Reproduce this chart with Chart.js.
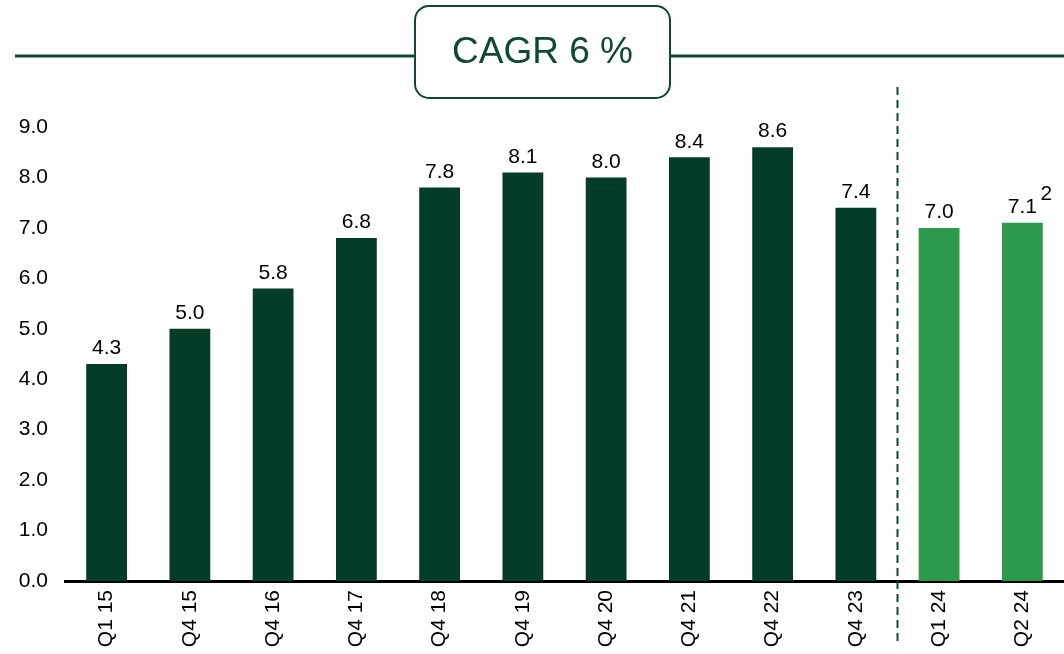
<!DOCTYPE html>
<html><head><meta charset="utf-8">
<script src="https://cdn.jsdelivr.net/npm/chart.js@4/dist/chart.umd.min.js"></script>
<style>html,body{margin:0;padding:0;background:#fff;}#wrap{width:1064px;height:654px;position:relative;}</style>
</head><body><div id="wrap"><canvas id="c" width="1064" height="654"></canvas></div>
<script>
const categories = ['Q1 15','Q4 15','Q4 16','Q4 17','Q4 18','Q4 19','Q4 20','Q4 21','Q4 22','Q4 23','Q1 24','Q2 24'];
const values = [4.3,5.0,5.8,6.8,7.8,8.1,8.0,8.4,8.6,7.4,7.0,7.1];
const isRecent = [false,false,false,false,false,false,false,false,false,false,true,true];
const yTicks = [0,1,2,3,4,5,6,7,8,9];
const titleText = 'CAGR 6 %';
const footnote = '2';

const DARK = '#033d27';
const LIGHT = '#2b9a4b';
const LINE = '#0d4a33';
const FONT = '"Liberation Sans", Arial, sans-serif';

const overlay = {
  id: 'overlay',
  afterDatasetsDraw(chart) {
    const ctx = chart.ctx;
    const meta = chart.getDatasetMeta(0);
    ctx.save();
    ctx.fillStyle = '#000';
    ctx.font = '21px ' + FONT;
    ctx.textAlign = 'center';
    ctx.textBaseline = 'bottom';
    meta.data.forEach((bar, i) => {
      ctx.fillText(values[i].toFixed(1), bar.x, bar.y - 5);
    });
    // footnote
    const last = meta.data[meta.data.length - 1];
    ctx.textAlign = 'left';
    ctx.fillText(footnote, last.x + 18, last.y - 18);
    // dashed separator
    const xs = chart.scales.x;
    const sepX = (xs.getPixelForValue(9) + xs.getPixelForValue(10)) / 2;
    ctx.strokeStyle = LINE;
    ctx.lineWidth = 2;
    ctx.setLineDash([8, 5]);
    ctx.beginPath();
    ctx.moveTo(sepX, 87);
    ctx.lineTo(sepX, 646);
    ctx.stroke();
    ctx.setLineDash([]);
    // title line and box
    ctx.lineWidth = 3;
    ctx.beginPath();
    ctx.moveTo(15, 56); ctx.lineTo(415, 56);
    ctx.moveTo(670, 56); ctx.lineTo(1064, 56);
    ctx.stroke();
    ctx.lineWidth = 2;
    ctx.beginPath();
    ctx.roundRect(415, 6, 255, 92, 14);
    ctx.fillStyle = '#fff';
    ctx.fill();
    ctx.stroke();
    ctx.fillStyle = LINE;
    ctx.font = '37px ' + FONT;
    ctx.textAlign = 'center';
    ctx.textBaseline = 'middle';
    ctx.fillText(titleText, 542.5, 53);
    ctx.restore();
  }
};

new Chart(document.getElementById('c'), {
  type: 'bar',
  data: {
    labels: categories,
    datasets: [{
      data: values,
      backgroundColor: values.map((v, i) => isRecent[i] ? LIGHT : DARK),
      barPercentage: 0.49,
      categoryPercentage: 1.0
    }]
  },
  options: {
    responsive: false,
    animation: false,
    devicePixelRatio: 1,
    layout: { padding: { top: 127, left: 0, right: -2, bottom: 0 } },
    plugins: { legend: { display: false }, tooltip: { enabled: false } },
    scales: {
      x: {
        grid: { display: false, drawTicks: false },
        border: { display: true, color: '#000', width: 3 },
        ticks: { color: '#000', font: { size: 21, family: FONT }, minRotation: 90, maxRotation: 90, padding: 9, autoSkip: false },
        afterFit(s) { s.height = 73; }
      },
      y: {
        min: 0, max: 9,
        grid: { display: false, drawTicks: false },
        border: { display: false },
        afterBuildTicks(s) { s.ticks = yTicks.map(v => ({ value: v })); },
        ticks: { color: '#000', font: { size: 21, family: FONT }, padding: 17, callback: v => Number(v).toFixed(1) },
        afterFit(s) { s.width = 65; }
      }
    }
  },
  plugins: [overlay]
});
</script>
</body></html>
